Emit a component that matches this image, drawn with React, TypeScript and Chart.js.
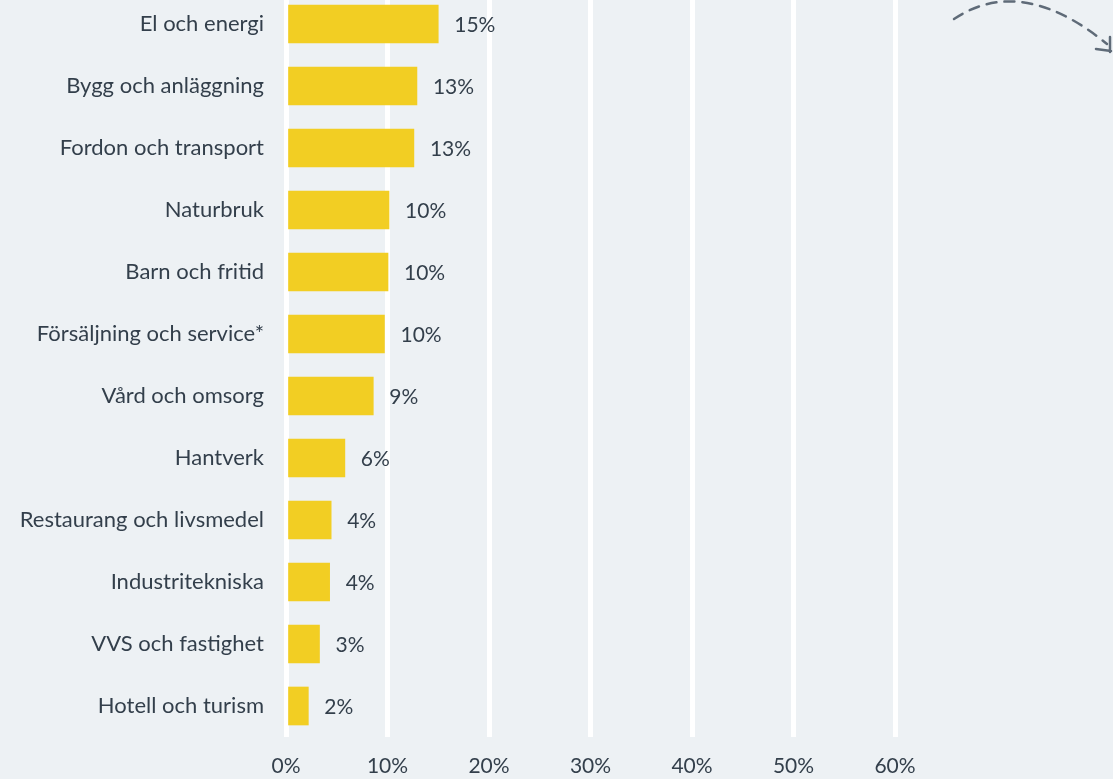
import React, { useEffect, useRef } from "react";
import { Chart, registerables } from "chart.js";

Chart.register(...registerables);

const categories = [
  "El och energi",
  "Bygg och anläggning",
  "Fordon och transport",
  "Naturbruk",
  "Barn och fritid",
  "Försäljning och service*",
  "Vård och omsorg",
  "Hantverk",
  "Restaurang och livsmedel",
  "Industritekniska",
  "VVS och fastighet",
  "Hotell och turism",
];
const values = [15.0, 12.9, 12.6, 10.15, 10.05, 9.7, 8.6, 5.8, 4.45, 4.3, 3.3, 2.2];
const xTicks = [0, 10, 20, 30, 40, 50, 60];

const BG = "#edf1f4";
const BAR = "#f2ce23";
const TEXT = "#333f4b";
const FONT = "Lato";
const FS_CAT = 22;
const FS_NUM = 21;

const labelPlugin = {
  id: "valueLabels",
  afterDatasetsDraw(chart: any) {
    const ctx = chart.ctx;
    const meta = chart.getDatasetMeta(0);
    ctx.save();
    ctx.font = `${FS_NUM}px ${FONT}`;
    ctx.fillStyle = TEXT;
    ctx.textAlign = "left";
    ctx.textBaseline = "middle";
    meta.data.forEach((bar: any, i: number) => {
      ctx.fillText(Math.round(values[i]) + "%", bar.x + 16, bar.y + 1);
    });
    ctx.restore();
  },
};

const arrowPlugin = {
  id: "arrowDeco",
  afterDraw(chart: any) {
    const ctx = chart.ctx;
    ctx.save();
    ctx.strokeStyle = "#5f6b78";
    ctx.lineWidth = 2.5;
    ctx.lineCap = "round";
    ctx.setLineDash([10, 8]);
    ctx.beginPath();
    ctx.moveTo(954, 26);
    ctx.bezierCurveTo(990, 2, 1040, -4, 1107, 51);
    ctx.stroke();
    ctx.setLineDash([]);
    ctx.beginPath();
    ctx.moveTo(1110, 44);
    ctx.lineTo(1110, 59);
    ctx.moveTo(1096, 56);
    ctx.lineTo(1111, 58);
    ctx.stroke();
    ctx.restore();
  },
};

export default function App() {
  const ref = useRef<HTMLCanvasElement | null>(null);
  useEffect(() => {
    document.body.style.margin = "0";
    document.body.style.background = BG;
    const chart = new Chart(ref.current as HTMLCanvasElement, {
      type: "bar",
      data: {
        labels: categories,
        datasets: [
          {
            data: values,
            backgroundColor: BAR,
            borderWidth: 0,
            barThickness: 38,
          },
        ],
      },
      options: {
        indexAxis: "y",
        animation: false,
        responsive: false,
        maintainAspectRatio: false,
        layout: { padding: { left: 0, right: 218, top: 0, bottom: 0 } },
        plugins: {
          legend: { display: false },
          tooltip: { enabled: false },
        },
        scales: {
          x: {
            min: 0,
            max: 60,
            afterBuildTicks(scale: any) {
              scale.ticks = xTicks.map((v) => ({ value: v }));
            },
            afterFit(scale: any) {
              scale.height = 42;
              scale.paddingLeft = 0;
              scale.paddingRight = 0;
            },
            grid: { color: "#ffffff", lineWidth: 5, drawTicks: false },
            border: { display: false },
            ticks: {
              padding: 17,
              color: TEXT,
              font: { family: FONT, size: FS_NUM },
              callback: (v: any) => v + "%",
            },
          },
          y: {
            afterFit(scale: any) {
              scale.width = 286;
              scale.paddingTop = 0;
              scale.paddingBottom = 0;
            },
            grid: { display: false, drawTicks: false },
            border: { display: false },
            ticks: {
              padding: 22,
              color: TEXT,
              font: { family: FONT, size: FS_CAT },
            },
          },
        },
      },
      plugins: [labelPlugin, arrowPlugin],
    });
    return () => chart.destroy();
  }, []);
  return (
    <div style={{ position: "relative", width: 1113, height: 779, overflow: "hidden", background: BG }}>
      <canvas
        ref={ref}
        width={1113}
        height={786}
        style={{ position: "absolute", left: 0, top: -7, width: 1113, height: 786 }}
      />
    </div>
  );
}
